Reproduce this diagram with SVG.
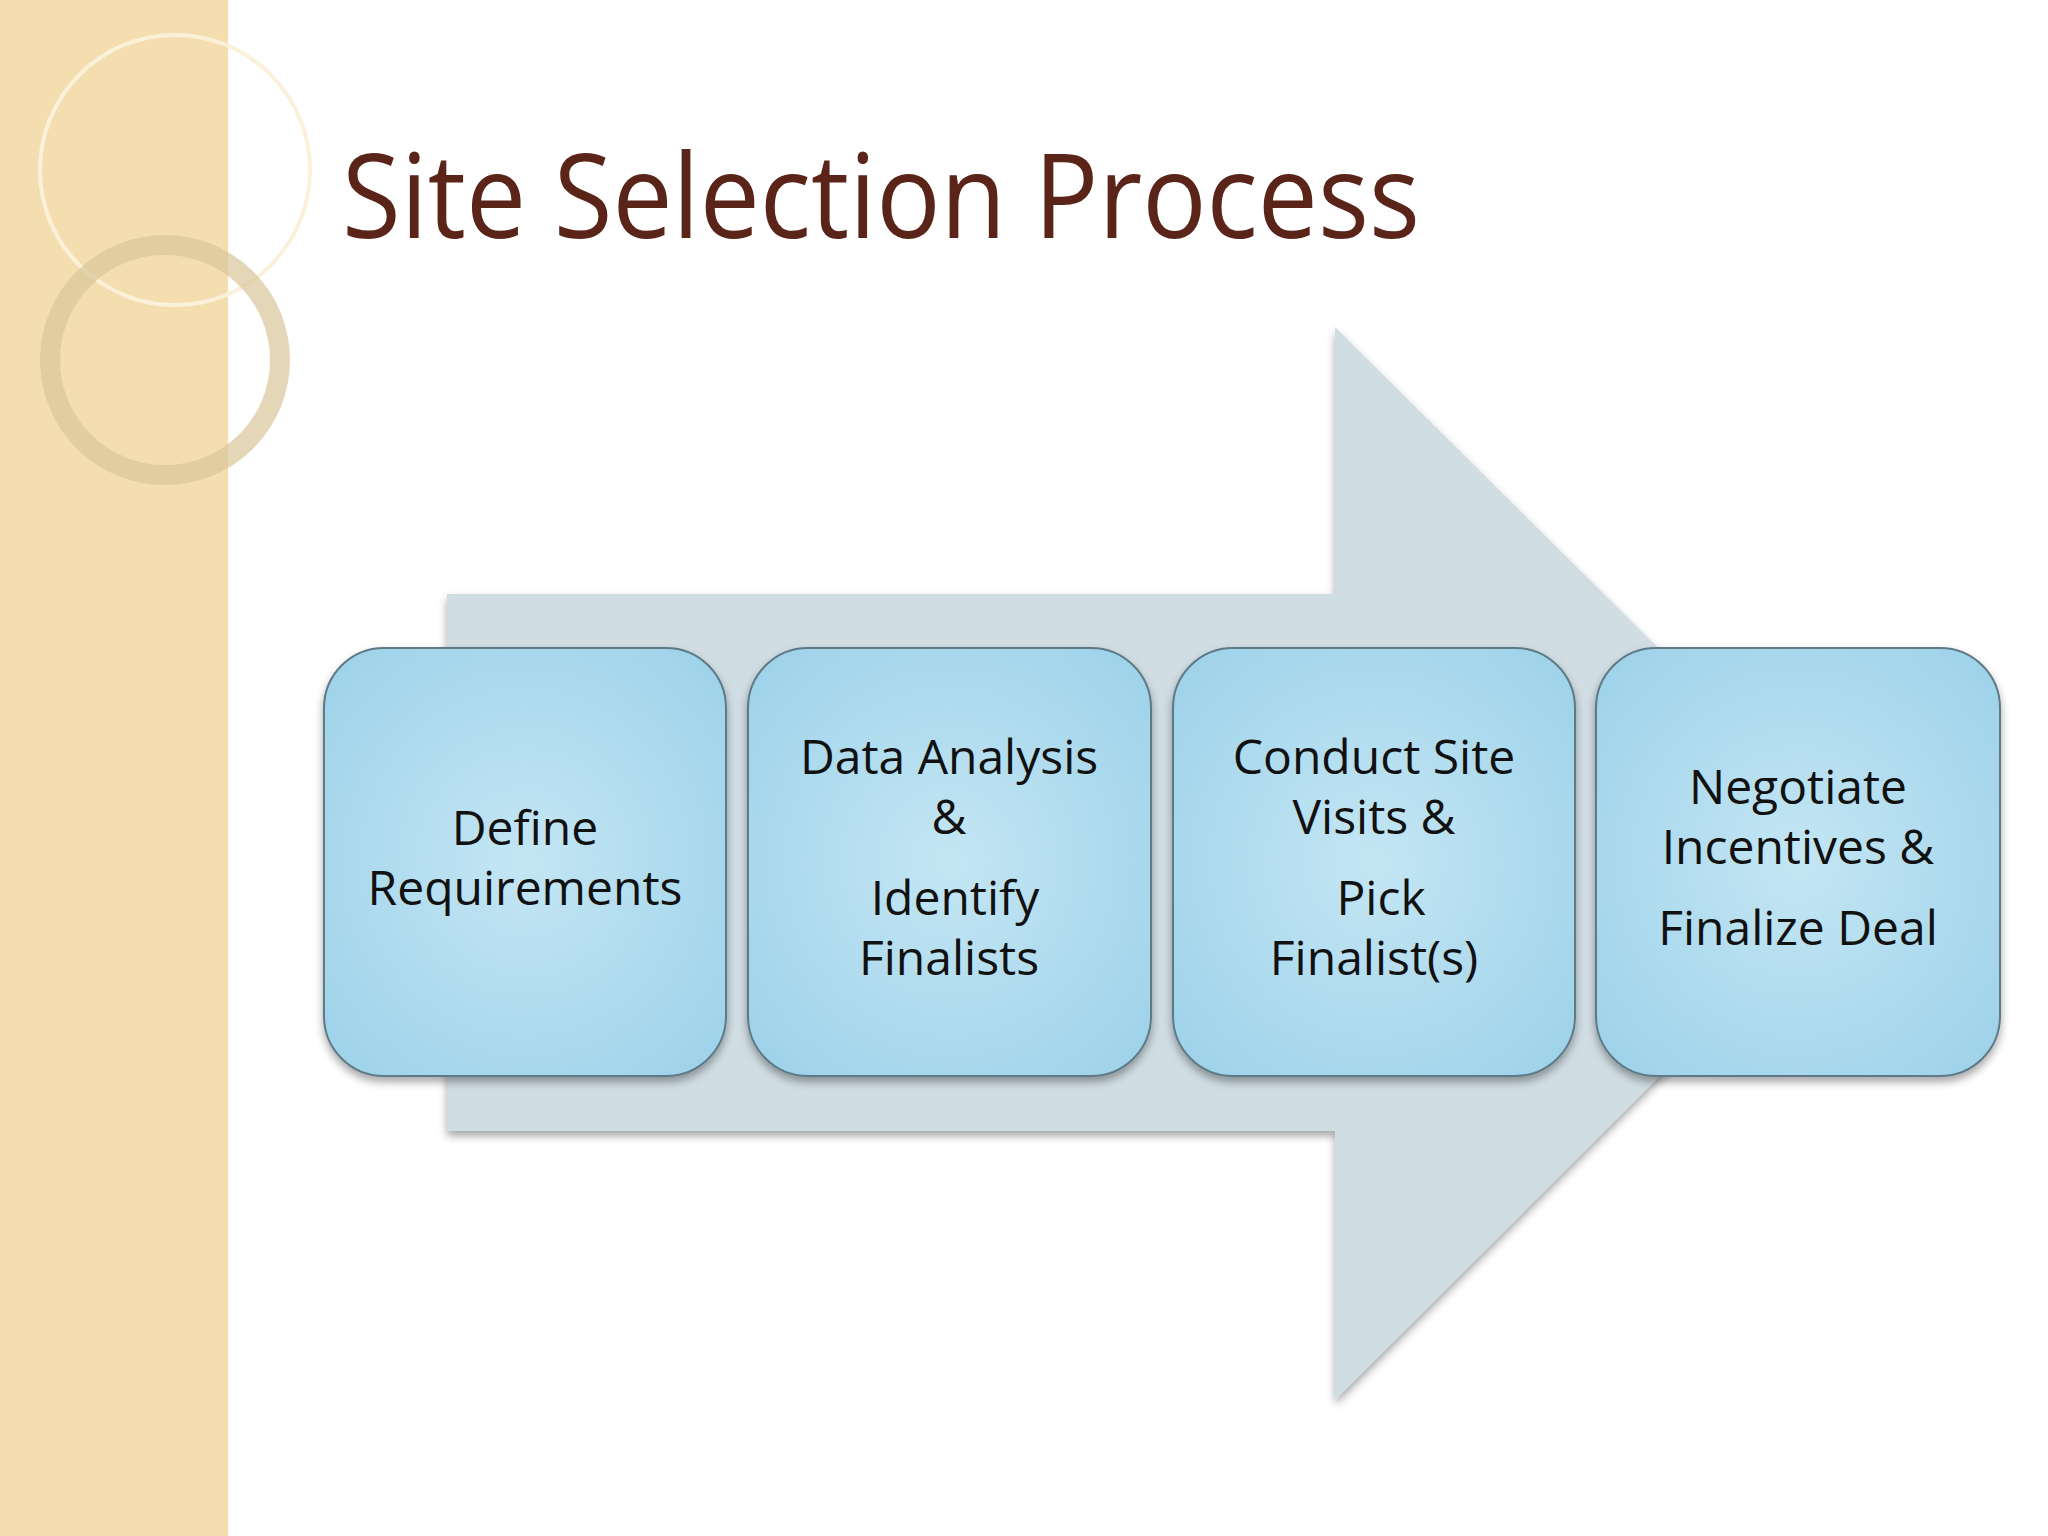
<svg xmlns="http://www.w3.org/2000/svg" width="2048" height="1536" viewBox="0 0 2048 1536">
<defs>
<radialGradient id="bg" cx="50%" cy="50%" r="65%">
<stop offset="0" stop-color="#c4e6f4"/><stop offset="1" stop-color="#9fd3ea"/>
</radialGradient>
<filter id="sh" x="-10%" y="-10%" width="120%" height="125%"><feDropShadow dx="0" dy="5" stdDeviation="4" flood-color="#000" flood-opacity="0.35"/></filter>
</defs>
<style>
.box{fill:url(#bg);stroke:#5e7a86;stroke-width:2;filter:url(#sh)}
.t{font-family:"Open Sans","Liberation Sans",sans-serif;font-size:48px;fill:#111;text-anchor:middle}
</style>
<rect width="2048" height="1536" fill="#fff"/>
<rect width="228" height="1536" fill="#f4deaf"/>
<g fill="none">
<circle cx="175" cy="170" r="135" stroke="#fbf1da" stroke-width="4"/>
<circle cx="165" cy="360" r="115" stroke="#d9c69a" stroke-width="20" opacity="0.7"/>
</g>
<text x="342" y="238" font-family="'Open Sans','Liberation Sans',sans-serif" font-size="118" fill="#5a2418" textLength="1078" lengthAdjust="spacingAndGlyphs">Site Selection Process</text>
<g id="arrow"><polygon points="447,594 1335,594 1335,327 1874,862 1335,1400 1335,1131 447,1131" fill="#d0dde3" filter="url(#sh)"/></g>
<g id="connectors"></g>
<g id="n1"><rect class="box" x="324" y="648" width="402" height="428" rx="60"/>
<text class="t" x="525" y="845">Define</text><text class="t" x="525" y="905">Requirements</text></g>
<g id="n2"><rect class="box" x="748" y="648" width="403" height="428" rx="60"/>
<text class="t" x="949" y="774">Data Analysis</text><text class="t" x="949" y="834">&amp;</text><text class="t" x="955" y="915">Identify</text><text class="t" x="949" y="975">Finalists</text></g>
<g id="n3"><rect class="box" x="1173" y="648" width="402" height="428" rx="60"/>
<text class="t" x="1374" y="774">Conduct Site</text><text class="t" x="1374" y="834">Visits &amp;</text><text class="t" x="1381" y="915">Pick</text><text class="t" x="1374" y="975">Finalist(s)</text></g>
<g id="n4"><rect class="box" x="1596" y="648" width="404" height="428" rx="60"/>
<text class="t" x="1798" y="804">Negotiate</text><text class="t" x="1798" y="864">Incentives &amp;</text><text class="t" x="1798" y="945">Finalize Deal</text></g>
</svg>
